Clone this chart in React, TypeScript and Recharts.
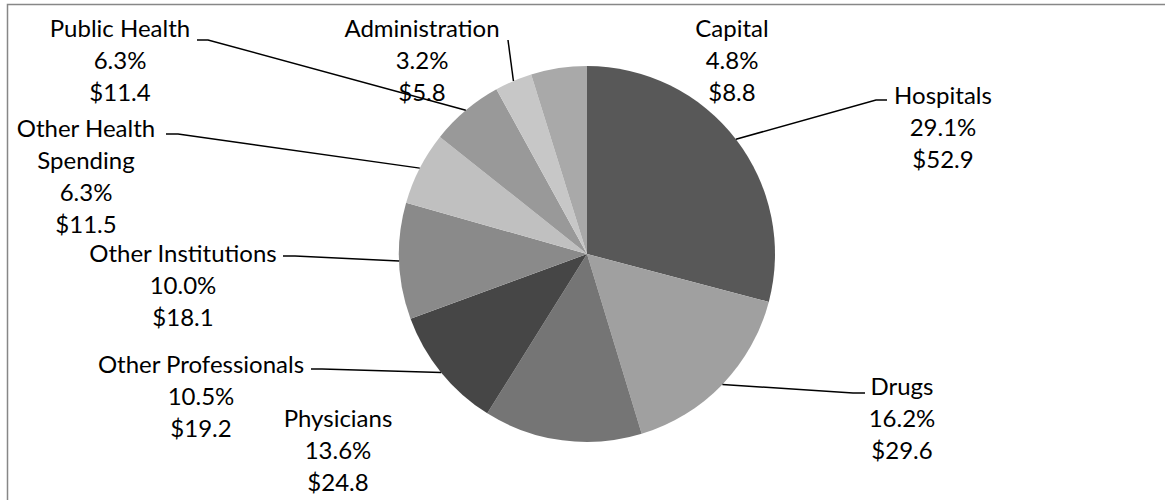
import React from "react";
import { PieChart, Pie, Cell } from "recharts";

const categories = [
  "Hospitals",
  "Drugs",
  "Physicians",
  "Other Professionals",
  "Other Institutions",
  "Other Health Spending",
  "Public Health",
  "Administration",
  "Capital",
];
const nameLines = [
  ["Hospitals"],
  ["Drugs"],
  ["Physicians"],
  ["Other Professionals"],
  ["Other Institutions"],
  ["Other Health", "Spending"],
  ["Public Health"],
  ["Administration"],
  ["Capital"],
];
const percents = [29.1, 16.2, 13.6, 10.5, 10.0, 6.3, 6.3, 3.2, 4.8];
const dollars = [52.9, 29.6, 24.8, 19.2, 18.1, 11.5, 11.4, 5.8, 8.8];

const colors = [
  "#585858",
  "#a0a0a0",
  "#757575",
  "#464646",
  "#8a8a8a",
  "#c0c0c0",
  "#999999",
  "#c7c7c7",
  "#a9a9a9",
];

// label layout relative to pie centre: text centre, leader elbow, leader tail end
const labelLayout: { t: [number, number]; e?: [number, number]; s?: [number, number] }[] = [
  { t: [356, -160], e: [289, -154], s: [300, -154] },
  { t: [315, 131], e: [266, 139], s: [278, 139] },
  { t: [-249, 163] },
  { t: [-386, 109], e: [-265, 115], s: [-276, 115] },
  { t: [-404, -2], e: [-292, 2], s: [-304, 2] },
  { t: [-501, -127], e: [-409, -120], s: [-421, -120] },
  { t: [-467, -227], e: [-379, -214], s: [-390, -214] },
  { t: [-165, -227], e: [-79, -214], s: [-79, -214] },
  { t: [145, -227] },
];

const data = categories.map((c, i) => ({ name: c, value: percents[i] }));

const RAD = Math.PI / 180;
const LINE_H = 32;

const renderLabel = (props: any) => {
  const { cx, cy, midAngle, outerRadius, index } = props;
  const lay = labelLayout[index];
  const lines = [...nameLines[index], percents[index].toFixed(1) + "%", "$" + dollars[index].toFixed(1)];
  const tx = cx + lay.t[0];
  const ty = cy + lay.t[1];
  const px = cx + outerRadius * Math.cos(-midAngle * RAD);
  const py = cy + outerRadius * Math.sin(-midAngle * RAD);
  return (
    <g key={"lbl" + index}>
      {lay.e && lay.s && (
        <polyline
          points={`${px},${py} ${cx + lay.e[0]},${cy + lay.e[1]} ${cx + lay.s[0]},${cy + lay.s[1]}`}
          fill="none"
          stroke="#000"
          strokeWidth={1.5}
        />
      )}
      {lines.map((ln, k) => (
        <text
          key={k}
          x={tx}
          y={ty + k * LINE_H}
          textAnchor="middle"
          dominantBaseline="central"
          fill="#000"
          fontSize={24}
          fontFamily="Lato, sans-serif"
        >
          {ln}
        </text>
      ))}
    </g>
  );
};

export default function App() {
  return (
    <div style={{ position: "relative", width: 1165, height: 500, overflow: "hidden", background: "#fff" }}>
      <style>{`html,body{margin:0;padding:0;}`}</style>
      <PieChart width={1165} height={500} margin={{ top: 0, right: 0, bottom: 0, left: 0 }}>
        <rect x={7.5} y={4.5} width={1300} height={700} fill="none" stroke="#878787" strokeWidth={1.5} />
        <Pie
          data={data}
          dataKey="value"
          nameKey="name"
          cx={587}
          cy={254}
          outerRadius={188}
          startAngle={90}
          endAngle={-270}
          stroke="none"
          label={renderLabel}
          labelLine={false}
          isAnimationActive={false}
        >
          {data.map((d, i) => (
            <Cell key={d.name} fill={colors[i]} />
          ))}
        </Pie>
      </PieChart>
    </div>
  );
}
